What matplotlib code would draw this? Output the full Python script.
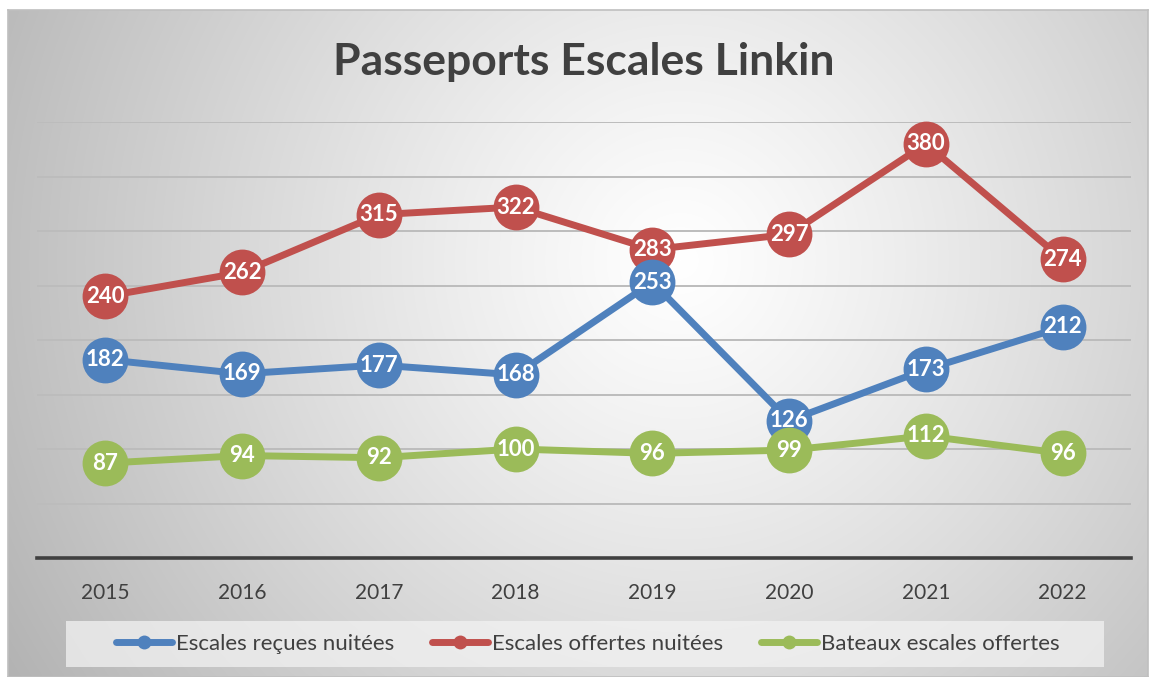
import numpy as np
import matplotlib
matplotlib.use("Agg")
import matplotlib.pyplot as plt
from matplotlib.patches import Rectangle
from matplotlib.lines import Line2D

years = ["2015", "2016", "2017", "2018", "2019", "2020", "2021", "2022"]
recues = [182, 169, 177, 168, 253, 126, 173, 212]
offertes = [240, 262, 315, 322, 283, 297, 380, 274]
bateaux = [87, 94, 92, 100, 96, 99, 112, 96]
series_names = ["Escales reçues nuitées", "Escales offertes nuitées", "Bateaux escales offertes"]
colors = ["#4f81bd", "#c0504d", "#9bbb59"]
title = "Passeports Escales Linkin"

FONT = ["Lato", "DejaVu Sans"]
plt.rcParams["font.family"] = FONT

W, H = 1149, 677
fig = plt.figure(figsize=(W / 100, H / 100), dpi=100)
fig.patch.set_facecolor("white")

def fx(x): return x / W
def fy(y): return 1 - y / H

# background with radial gradient
bx0, by0, bx1, by1 = 8, 10, 1148, 677
bg = fig.add_axes([fx(bx0), fy(by1), fx(bx1) - fx(bx0), fy(by0) - fy(by1)])
nx, ny = bx1 - bx0, by1 - by0
xx, yy = np.meshgrid(np.arange(nx), np.arange(ny))
cx, cy = 680 - bx0, 260 - by0
r = np.sqrt((xx - cx) ** 2 + (yy - cy) ** 2) / 700.0
v = 1.0 - 0.26 * np.clip(r, 0, 1.2) ** 1.15
img = np.dstack([v, v, v])
bg.imshow(img, aspect="auto", extent=[0, nx, ny, 0], interpolation="bilinear")
bg.set_xlim(0, nx); bg.set_ylim(ny, 0)
bg.set_xticks([]); bg.set_yticks([])
for s in bg.spines.values():
    s.set_color("#bfbfbf"); s.set_linewidth(1.2)

# plot axes
ax = fig.add_axes([fx(37), fy(558), fx(1131) - fx(37), fy(122) - fy(558)])
ax.patch.set_alpha(0)
x = np.arange(len(years))
ax.set_xlim(-0.5, len(years) - 0.5)
ax.set_ylim(0, 400)
for gy in range(50, 401, 50):
    ax.axhline(gy, color="#bcbcbc", lw=1.4, zorder=1)
ax.axhline(0, color="#404040", lw=2.6, zorder=2, clip_on=False)
for s in ax.spines.values():
    s.set_visible(False)
ax.set_yticks([])
ax.set_xticks(x)
ax.set_xticklabels(years, fontsize=15, color="#404040")
ax.tick_params(axis="x", length=0, pad=18)

zorders = [4, 3, 5]
for vals, c, z in zip([recues, offertes, bateaux], colors, zorders):
    ax.plot(x, vals, color=c, lw=5, solid_capstyle="round", zorder=z,
            marker="o", markersize=33, markeredgewidth=0, clip_on=False)
    for xi, vi in zip(x, vals):
        ax.text(xi, vi, str(vi), ha="center", va="center", color="white",
                fontsize=16, fontweight="bold", zorder=10)

fig.text(fx(584), fy(62), title, ha="center", va="center", fontsize=32,
         fontweight="bold", color="#404040")

# legend
fig.patches.append(Rectangle((fx(66), fy(667)), fx(1104) - fx(66), fy(621) - fy(667),
                             transform=fig.transFigure, facecolor="#f2f2f2", alpha=0.75,
                             edgecolor="none", zorder=1))
handles = [Line2D([], [], color=c, lw=5, marker="o", markersize=10, markeredgewidth=0,
                  solid_capstyle="round") for c in colors]
leg = fig.legend(handles, series_names, loc="center", bbox_to_anchor=(fx(588), fy(644)),
                 ncol=3, frameon=False, fontsize=16, handlelength=2.5, handletextpad=0.2,
                 columnspacing=1.7)
for t in leg.get_texts():
    t.set_color("#404040")

fig.savefig("out.png", dpi=100)
